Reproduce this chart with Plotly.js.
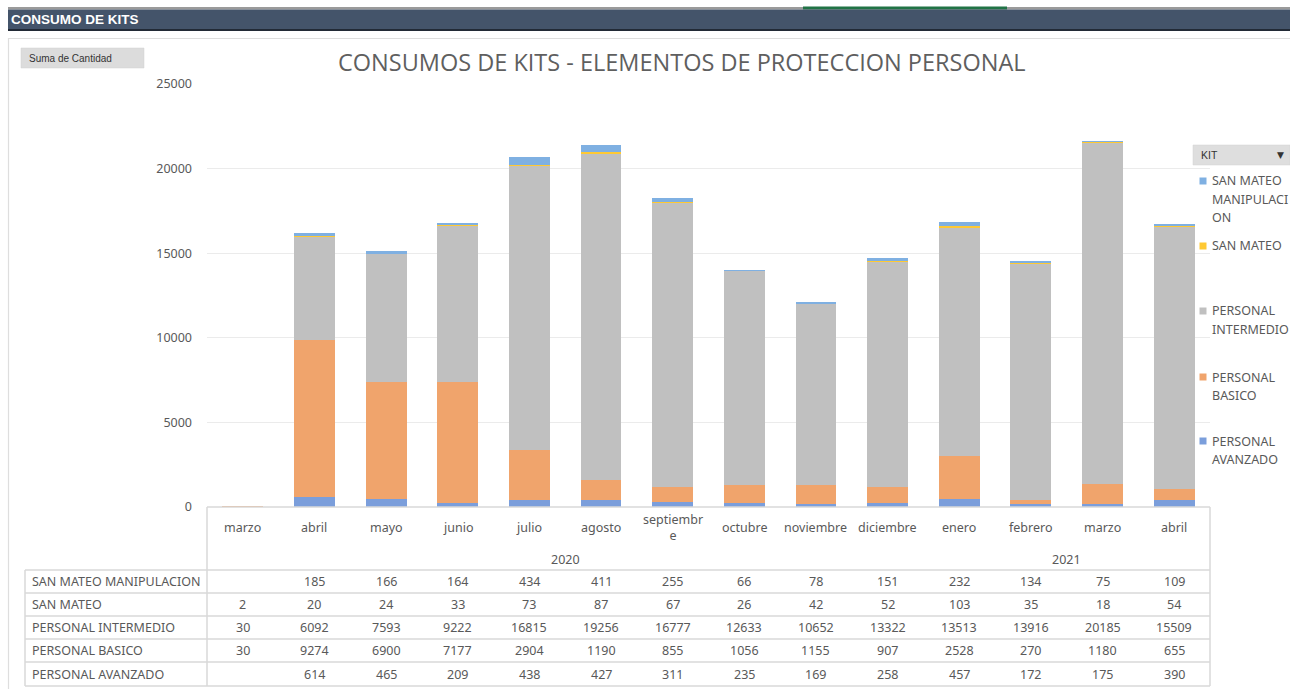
<!DOCTYPE html>
<html>
<head>
<meta charset="utf-8">
<script src="https://cdn.plot.ly/plotly-3.0.1.min.js"></script>
<style>
html,body{margin:0;padding:0;background:#fff;overflow:hidden;}
#chart{width:1290px;height:689px;}
</style>
</head>
<body>
<div id="chart"></div>
<script>
// ---------- DATA ----------
const months = ['marzo','abril','mayo','junio','julio','agosto','septiembre','octubre','noviembre','diciembre','enero','febrero','marzo','abril'];
const monthLabels = ['marzo','abril','mayo','junio','julio','agosto','septiembr<br>e','octubre','noviembre','diciembre','enero','febrero','marzo','abril'];
const yearLabels = ['2020','2021'];
const yearCounts = [10, 4];

const seriesNames = ['SAN MATEO MANIPULACION','SAN MATEO','PERSONAL INTERMEDIO','PERSONAL BASICO','PERSONAL AVANZADO'];
const legendLabels = ['SAN MATEO<br>MANIPULACI<br>ON','SAN MATEO','PERSONAL<br>INTERMEDIO','PERSONAL<br>BASICO','PERSONAL<br>AVANZADO'];

const sanMateoManipulacion = [null,185,166,164,434,411,255,66,78,151,232,134,75,109];
const sanMateo            = [2,20,24,33,73,87,67,26,42,52,103,35,18,54];
const personalIntermedio  = [30,6092,7593,9222,16815,19256,16777,12633,10652,13322,13513,13916,20185,15509];
const personalBasico      = [30,9274,6900,7177,2904,1190,855,1056,1155,907,2528,270,1180,655];
const personalAvanzado    = [null,614,465,209,438,427,311,235,169,258,457,172,175,390];

const yTicks = [0,5000,10000,15000,20000,25000];

// ---------- STYLE / LAYOUT ----------
const W = 1290, H = 689;
const px = x => x / W;
const py = y => 1 - y / H;
const colors = ['#7fb0e2','#ffc933','#c0c0c0','#f0a46c','#7b9edb'];
const seriesValues = [sanMateoManipulacion, sanMateo, personalIntermedio, personalBasico, personalAvanzado];
const xs = months.map((_, i) => i);
const textColor = '#595959';
const FONT = 'Noto Sans, Open Sans, sans-serif';

// stacked bars: bottom to top
const traces = [];
for (let k = seriesNames.length - 1; k >= 0; k--) {
  traces.push({
    type: 'bar',
    name: seriesNames[k],
    x: xs,
    y: seriesValues[k],
    marker: {color: colors[k], line: {width: 0}},
    showlegend: false,
    hoverinfo: 'name+y'
  });
}

const shapes = [];
const annotations = [];
const lineColor = '#d9d9d9';

function hline(x0, x1, y, color, w) {
  shapes.push({type:'line', xref:'paper', yref:'paper', x0:px(x0), x1:px(x1), y0:py(y), y1:py(y), line:{color:color, width:w}});
}
function vline(x, y0, y1, color, w) {
  shapes.push({type:'line', xref:'paper', yref:'paper', x0:px(x), x1:px(x), y0:py(y0), y1:py(y1), line:{color:color, width:w}});
}
function rect(x0, y0, x1, y1, fill, lc, lw) {
  shapes.push({type:'rect', xref:'paper', yref:'paper', x0:px(x0), x1:px(x1), y0:py(y1), y1:py(y0), fillcolor:fill, line:{color:lc || fill, width:lw || 0}, layer:'below'});
}
function text(t, x, y, opts) {
  opts = opts || {};
  annotations.push(Object.assign({
    text: t, xref:'paper', yref:'paper', x: px(x), y: py(y),
    xanchor:'left', yanchor:'middle', showarrow:false,
    font:{family:FONT, size:12.5, color:textColor}
  }, opts));
}

// header strip
rect(8, 7, 1290, 9.5, '#9a9a9a');
rect(803, 6.5, 1007, 9.5, '#217346');
rect(8, 9.5, 1290, 29.5, '#44546a');
rect(8, 29, 1290, 31, '#222a36');
text('<b>CONSUMO DE KITS</b>', 9, 20, {font:{family:'Liberation Sans, Arial, sans-serif', size:13.5, color:'#ffffff'}});

// chart border
rect(8.5, 38.5, 1300, 700, 'rgba(0,0,0,0)', '#dedede', 1.2);

// "Suma de Cantidad" field button
rect(21, 48, 144, 68, '#dcdcdc', '#d0d0d0', 0.5);
text('Suma de Cantidad', 27, 58, {font:{family:'Liberation Sans, Arial, sans-serif', size:10, color:'#333333'}});

// title
text('CONSUMOS DE KITS - ELEMENTOS DE PROTECCION PERSONAL', 682, 62,
  {xanchor:'center', font:{family:'Open Sans, Noto Sans, sans-serif', size:23.5, color:'#5f5f5f'}});

// data table lines
const tLeft = 25, colSplit = 207, tRight = 1210, axisY = 507;
const rowTops = [570, 593, 616, 639, 662, 686];
hline(colSplit, tRight, axisY, lineColor, 1.5);
vline(colSplit, axisY, rowTops[rowTops.length-1], lineColor, 1.5);
vline(tRight, axisY, rowTops[rowTops.length-1], lineColor, 1.5);
vline(tLeft, rowTops[0], rowTops[rowTops.length-1], lineColor, 1.5);
rowTops.forEach(y => hline(tLeft, tRight, y, lineColor, 1.5));

// month labels
monthLabels.forEach((m, i) => {
  annotations.push({text:m, xref:'x', yref:'paper', x:i, y:py(527), xanchor:'center', yanchor:'middle',
    showarrow:false, font:{family:FONT, size:12.5, color:textColor}});
});
// year labels
let start = 0;
yearLabels.forEach((yl, j) => {
  const center = start + (yearCounts[j] - 1) / 2;
  annotations.push({text:yl, xref:'x', yref:'paper', x:center, y:py(559), xanchor:'center', yanchor:'middle',
    showarrow:false, font:{family:FONT, size:12.5, color:textColor}});
  start += yearCounts[j];
});
// table rows
seriesNames.forEach((name, r) => {
  const yc = (rowTops[r] + rowTops[r+1]) / 2;
  text(name, 30, yc, {font:{family:FONT, size:12.5, color:textColor}});
  seriesValues[r].forEach((v, i) => {
    if (v === null) return;
    annotations.push({text:String(v), xref:'x', yref:'paper', x:i, y:py(yc), xanchor:'center', yanchor:'middle',
      showarrow:false, font:{family:FONT, size:12.5, color:textColor}});
  });
});

// legend (KIT field button + entries)
rect(1193, 145, 1290, 165, '#dedede', '#d0d0d0', 0.5);
text('KIT', 1199, 155, {font:{family:'Liberation Sans, Arial, sans-serif', size:10.5, color:'#333333'}});
text('▼', 1280, 155, {xanchor:'center', font:{family:'DejaVu Sans, sans-serif', size:9, color:'#333333'}});
const legendY = [181, 246, 311, 377, 441];
legendLabels.forEach((lab, k) => {
  rect(1199.5, legendY[k] - 3.5, 1206.5, legendY[k] + 3.5, colors[k]);
  lab.split('<br>').forEach((line, j) => {
    text(line, 1210, legendY[k] + j * 18, {font:{family:FONT, size:12.5, color:textColor}});
  });
});

const layout = {
  width: W, height: H,
  margin: {l:0, r:0, t:0, b:0},
  paper_bgcolor: '#ffffff',
  plot_bgcolor: 'rgba(0,0,0,0)',
  barmode: 'stack',
  bargap: 0.43,
  showlegend: false,
  xaxis: {
    domain: [px(207), px(1210)],
    range: [-0.5, months.length - 0.5],
    showticklabels: false, showgrid: false, zeroline: false, showline: false, ticks: '',
    fixedrange: true
  },
  yaxis: {
    domain: [py(507), py(84)],
    range: [0, 25000],
    tickvals: yTicks,
    ticktext: yTicks.map(String),
    showgrid: true, gridcolor: '#ebebeb', gridwidth: 1,
    zeroline: false, showline: false, ticks: '',
    ticklabelstandoff: 14,
    tickfont: {family: FONT, size: 12.5, color: textColor},
    fixedrange: true
  },
  shapes: shapes,
  annotations: annotations,
  font: {family: FONT}
};

Plotly.newPlot('chart', traces, layout, {displayModeBar:false, staticPlot:true});
</script>
</body>
</html>
